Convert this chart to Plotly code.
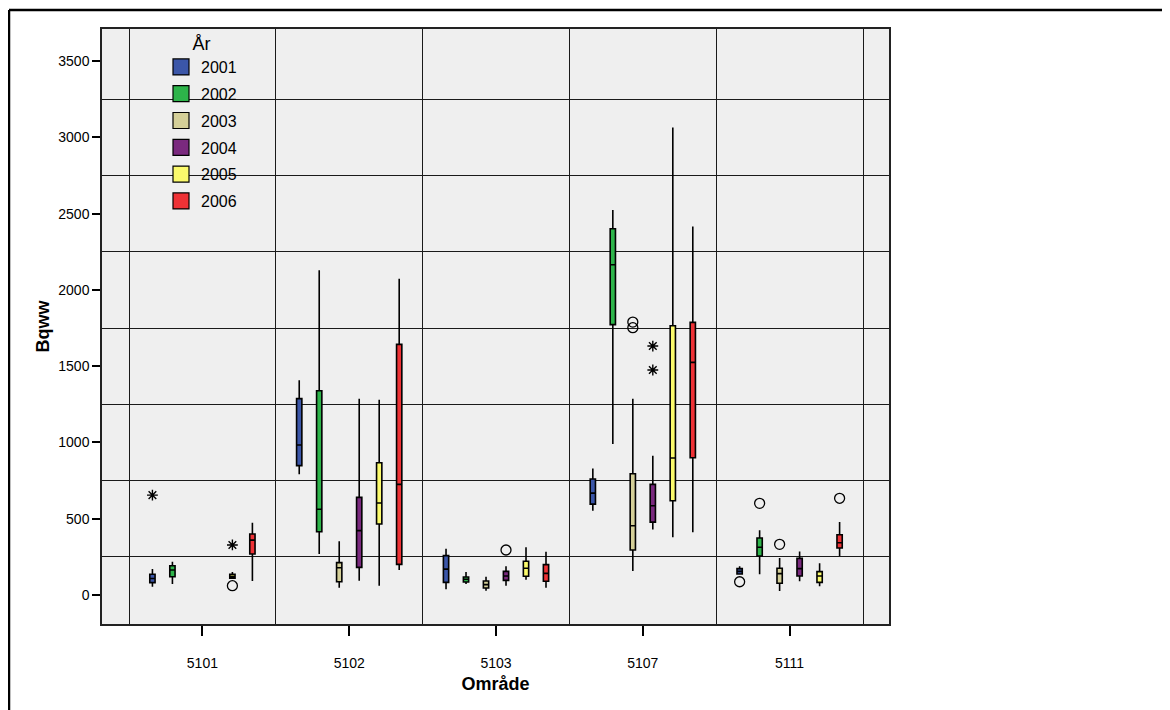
import plotly.graph_objects as go

# ---------------- data ----------------
areas = ["5101", "5102", "5103", "5107", "5111"]
years = ["2001", "2002", "2003", "2004", "2005", "2006"]
colors = ["#3B56A8", "#2DB44A", "#D4CF98", "#7A297E", "#FBFA6C", "#EE3236"]

# per year: values per area (None = no data); lower fence, q1, median, q3, upper fence
lower_2001 = [54, 791, 37, 553, 135]
q1_2001 = [81, 848, 83, 596, 138]
med_2001 = [108, 983, 170, 668, 155]
q3_2001 = [136, 1287, 258, 760, 173]
upper_2001 = [170, 1407, 304, 830, 188]

lower_2002 = [72, 269, 72, 990, 136]
q1_2002 = [120, 415, 85, 1772, 256]
med_2002 = [164, 562, 103, 2165, 313]
q3_2002 = [192, 1339, 118, 2401, 374]
upper_2002 = [218, 2128, 151, 2523, 424]

lower_2003 = [None, 48, 28, 157, 26]
q1_2003 = [None, 87, 46, 295, 77]
med_2003 = [None, 179, 68, 454, 140]
q3_2003 = [None, 212, 92, 795, 175]
upper_2003 = [None, 352, 120, 1287, 243]

lower_2004 = [None, 94, 61, 430, 90]
q1_2004 = [None, 181, 96, 478, 125]
med_2004 = [None, 422, 125, 585, 173]
q3_2004 = [None, 640, 155, 725, 240]
upper_2004 = [None, 1287, 188, 913, 286]

lower_2005 = [108, 61, 100, 378, 57]
q1_2005 = [111, 465, 123, 618, 83]
med_2005 = [122, 603, 175, 898, 125]
q3_2005 = [136, 867, 221, 1765, 153]
upper_2005 = [151, 1280, 313, 3065, 208]

lower_2006 = [92, 164, 48, 411, 256]
q1_2006 = [269, 201, 90, 900, 308]
med_2006 = [360, 725, 142, 1525, 343]
q3_2006 = [400, 1643, 199, 1787, 395]
upper_2006 = [474, 2073, 284, 2416, 478]

# outliers (area, year, value)
circle_area = ["5101", "5103", "5107", "5107", "5111", "5111", "5111", "5111"]
circle_year = ["2005", "2004", "2003", "2003", "2001", "2002", "2003", "2006"]
circle_value = [61, 295, 1789, 1752, 87, 601, 332, 634]

star_area = ["5101", "5101", "5107", "5107"]
star_year = ["2001", "2005", "2004", "2004"]
star_value = [655, 328, 1632, 1475]

y_tickvals = [0, 500, 1000, 1500, 2000, 2500, 3000, 3500]
y_gridvals = [250, 750, 1250, 1750, 2250, 2750, 3250]

stats = {
    "2001": (lower_2001, q1_2001, med_2001, q3_2001, upper_2001),
    "2002": (lower_2002, q1_2002, med_2002, q3_2002, upper_2002),
    "2003": (lower_2003, q1_2003, med_2003, q3_2003, upper_2003),
    "2004": (lower_2004, q1_2004, med_2004, q3_2004, upper_2004),
    "2005": (lower_2005, q1_2005, med_2005, q3_2005, upper_2005),
    "2006": (lower_2006, q1_2006, med_2006, q3_2006, upper_2006),
}

# ---------------- layout constants ----------------
# the page body has an 8px margin, so the figure is drawn at (8, 8) in the window
W, H = 1162, 702
ML, MR, MT, MB = 94, 281, 21, 86
PW, PH = W - ML - MR, H - MT - MB
FONT = "Liberation Sans, Arial, sans-serif"
SLOT = 0.1362
BOXW = 0.036


def offset(year):
    return (years.index(year) - 2.5) * SLOT


fig = go.Figure()

for yr, col in zip(years, colors):
    lo, q1, md, q3, up = stats[yr]
    idx = [i for i in range(len(areas)) if md[i] is not None]
    fig.add_trace(go.Box(
        x=[i + offset(yr) for i in idx],
        lowerfence=[lo[i] for i in idx],
        q1=[q1[i] for i in idx],
        median=[md[i] for i in idx],
        q3=[q3[i] for i in idx],
        upperfence=[up[i] for i in idx],
        width=BOXW,
        fillcolor=col,
        line=dict(color="black", width=1.6),
        whiskerwidth=0,
        boxpoints=False,
        showlegend=False,
        hoverinfo="skip",
    ))

fig.add_trace(go.Scatter(
    x=[areas.index(a) + offset(y) for a, y in zip(circle_area, circle_year)],
    y=circle_value,
    mode="markers",
    marker=dict(symbol="circle-open", size=10, color="black", line=dict(width=1.3)),
    showlegend=False,
    hoverinfo="skip",
))
fig.add_trace(go.Scatter(
    x=[areas.index(a) + offset(y) for a, y in zip(star_area, star_year)],
    y=star_value,
    mode="markers",
    marker=dict(symbol="asterisk-open", size=9, color="black", line=dict(width=1.4, color="black")),
    showlegend=False,
    hoverinfo="skip",
))

# legend entries
for yr, col in zip(years, colors):
    fig.add_trace(go.Scatter(
        x=[None], y=[None], mode="markers", name=yr, legendgroup=yr,
        marker=dict(symbol="square", size=18, color=col, line=dict(color="black", width=1.2)),
    ))

boundaries = [i - 0.5 for i in range(len(areas) + 1)]


def px2paper_x(px):
    return (px - ML) / PW


def px2paper_y(py):
    return (H - MB - py) / PH


shapes = [
    dict(type="line", xref="paper", yref="paper",
         x0=px2paper_x(1), x1=px2paper_x(W + 5), y0=px2paper_y(2), y1=px2paper_y(2),
         line=dict(color="black", width=2.5)),
    dict(type="line", xref="paper", yref="paper",
         x0=px2paper_x(1), x1=px2paper_x(1), y0=px2paper_y(2), y1=px2paper_y(H + 5),
         line=dict(color="black", width=2.5)),
]

fig.update_layout(
    width=W, height=H,
    margin=dict(l=ML, r=MR, t=MT, b=MB, pad=0),
    paper_bgcolor="white",
    plot_bgcolor="#EFEFEF",
    font=dict(family=FONT, size=14, color="black"),
    shapes=shapes,
    showlegend=True,
    legend=dict(
        title=dict(text="År", side="top center", font=dict(family=FONT, size=18)),
        x=px2paper_x(153), y=1.004, xanchor="left", yanchor="top",
        bgcolor="rgba(0,0,0,0)", borderwidth=0,
        font=dict(family=FONT, size=16),
        itemsizing="trace", tracegroupgap=3,
    ),
    xaxis=dict(
        range=[-0.684, 4.677],
        tickmode="array", tickvals=list(range(len(areas))), ticktext=areas,
        ticks="outside", ticklen=10, tickwidth=1.5, tickcolor="black",
        ticklabelstandoff=15,
        showgrid=False, zeroline=False,
        showline=True, mirror=True, linecolor="#222", linewidth=1.5,
        minor=dict(tickmode="array", tickvals=boundaries, showgrid=True,
                   gridcolor="#1a1a1a", gridwidth=1.2, ticks=""),
        title=dict(text="<b>Område</b>", font=dict(family=FONT, size=18), standoff=8),
    ),
    yaxis=dict(
        range=[-190, 3710],
        tickmode="array", tickvals=y_tickvals,
        ticks="outside", ticklen=8, tickwidth=1.5, tickcolor="black",
        showgrid=False, zeroline=False,
        showline=True, mirror=True, linecolor="#222", linewidth=1.5,
        minor=dict(tickmode="array", tickvals=y_gridvals, showgrid=True,
                   gridcolor="#1a1a1a", gridwidth=1.2, ticks=""),
        title=dict(text="<b>Bqww</b>", font=dict(family=FONT, size=18), standoff=4),
    ),
)

fig.write_html("out.html")
